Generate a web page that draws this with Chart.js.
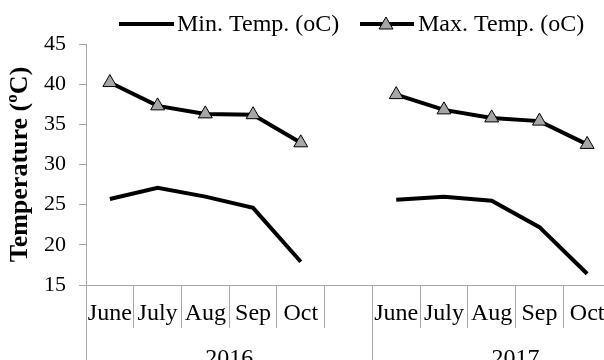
<!DOCTYPE html>
<html>
<head>
<meta charset="utf-8">
<script src="https://cdn.jsdelivr.net/npm/chart.js@4.4.0/dist/chart.umd.min.js"></script>
<style>
  html, body { margin: 0; padding: 0; overflow: hidden; background: #fff; }
  #wrap { width: 620px; height: 360px; }
</style>
</head>
<body>
<div id="wrap"><canvas id="tempChart"></canvas></div>
<script>
// values
const months = ['June', 'July', 'Aug', 'Sep', 'Oct'];
const years = ['2016', '2017'];
const min2016 = [25.7, 27.1, 26.0, 24.6, 17.9];
const max2016 = [40.2, 37.3, 36.3, 36.2, 32.7];
const min2017 = [25.6, 26.0, 25.5, 22.2, 16.4];
const max2017 = [38.7, 36.8, 35.8, 35.4, 32.5];
const yTicks = [15, 20, 25, 30, 35, 40, 45];

const labels = months.concat(['']).concat(months);
const minTemp = min2016.concat([null]).concat(min2017);
const maxTemp = max2016.concat([null]).concat(max2017);

const serif = '"Liberation Serif", "Times New Roman", serif';
const axisGrey = '#a6a6a6';
const markerGrey = '#a6a6a6';

function triangle(ctx, x, y, r) {
    ctx.beginPath();
    ctx.moveTo(x, y - r);
    ctx.lineTo(x + r * 0.866, y + r * 0.5);
    ctx.lineTo(x - r * 0.866, y + r * 0.5);
    ctx.closePath();
    ctx.fillStyle = markerGrey;
    ctx.fill();
    ctx.lineWidth = 1;
    ctx.strokeStyle = '#000';
    ctx.stroke();
}

// legend + year group labels + long group separators
const extras = {
    id: 'extras',
    afterDraw(chart) {
        const ctx = chart.ctx;
        const x = chart.scales.x;
        const slot = x.width / labels.length;
        ctx.save();

        // group separators
        ctx.strokeStyle = axisGrey;
        ctx.lineWidth = 1;
        [0, 6, 11].forEach(i => {
            const px = Math.round(x.getPixelForValue(i) - slot / 2) + 0.5;
            ctx.beginPath();
            ctx.moveTo(px, x.top);
            ctx.lineTo(px, chart.height);
            ctx.stroke();
        });

        // years
        ctx.fillStyle = '#000';
        ctx.font = '24px ' + serif;
        ctx.textAlign = 'center';
        ctx.textBaseline = 'alphabetic';
        const c1 = (x.getPixelForValue(0) + x.getPixelForValue(5)) / 2;
        const c2 = (x.getPixelForValue(6) + x.getPixelForValue(10)) / 2 + slot / 2;
        ctx.fillText(years[0], c1, 365);
        ctx.fillText(years[1], c2, 365);

        // legend
        const ly = 24;
        ctx.font = '24px ' + serif;
        ctx.textAlign = 'left';
        ctx.textBaseline = 'middle';
        ctx.strokeStyle = '#000';
        ctx.lineWidth = 4;
        ctx.beginPath();
        ctx.moveTo(119, ly);
        ctx.lineTo(174, ly);
        ctx.stroke();
        ctx.fillText(chart.data.datasets[0].label, 177, ly + 1);

        ctx.lineWidth = 4;
        ctx.beginPath();
        ctx.moveTo(360, ly);
        ctx.lineTo(414, ly);
        ctx.stroke();
        triangle(ctx, 386, ly + 1, 8);
        ctx.fillStyle = '#000';
        ctx.fillText(chart.data.datasets[1].label, 418, ly + 1);
        ctx.restore();
    }
};

const chart = new Chart(document.getElementById('tempChart'), {
    type: 'line',
    data: {
        labels: labels,
        datasets: [{
            label: 'Min. Temp. (oC)',
            data: minTemp,
            borderColor: '#000',
            borderWidth: 4,
            pointRadius: 0,
            tension: 0
        }, {
            label: 'Max. Temp. (oC)',
            data: maxTemp,
            borderColor: '#000',
            borderWidth: 4,
            pointStyle: 'triangle',
            pointRadius: 8,
            pointBackgroundColor: markerGrey,
            pointBorderColor: '#000',
            pointBorderWidth: 1,
            tension: 0
        }]
    },
    options: {
        responsive: true,
        maintainAspectRatio: false,
        animation: false,
        layout: { padding: { top: 44, right: 6, left: 0, bottom: 0 } },
        plugins: {
            legend: { display: false },
            tooltip: { enabled: false }
        },
        scales: {
            x: {
                offset: true,
                grid: {
                    offset: true,
                    drawOnChartArea: false,
                    tickLength: 43,
                    color: axisGrey
                },
                border: { color: axisGrey, width: 1 },
                ticks: {
                    font: { family: serif, size: 24 },
                    color: '#000',
                    padding: -29,
                    maxRotation: 0,
                    autoSkip: false
                },
                afterFit(scale) { scale.height = 75; }
            },
            y: {
                min: 15,
                max: 45,
                afterBuildTicks(scale) { scale.ticks = yTicks.map(v => ({ value: v })); },
                grid: {
                    drawOnChartArea: false,
                    tickLength: 7,
                    color: axisGrey
                },
                border: { color: axisGrey, width: 1 },
                ticks: {
                    font: { family: serif, size: 22 },
                    color: '#000',
                    padding: 13
                },
                title: {
                    display: true,
                    text: 'Temperature (ºC)',
                    font: { family: serif, size: 26, weight: 'bold' },
                    color: '#000',
                    padding: { top: 5, bottom: 0 }
                },
                afterFit(scale) { scale.width = 86; }
            }
        }
    },
    plugins: [extras]
});
</script>
</body>
</html>
